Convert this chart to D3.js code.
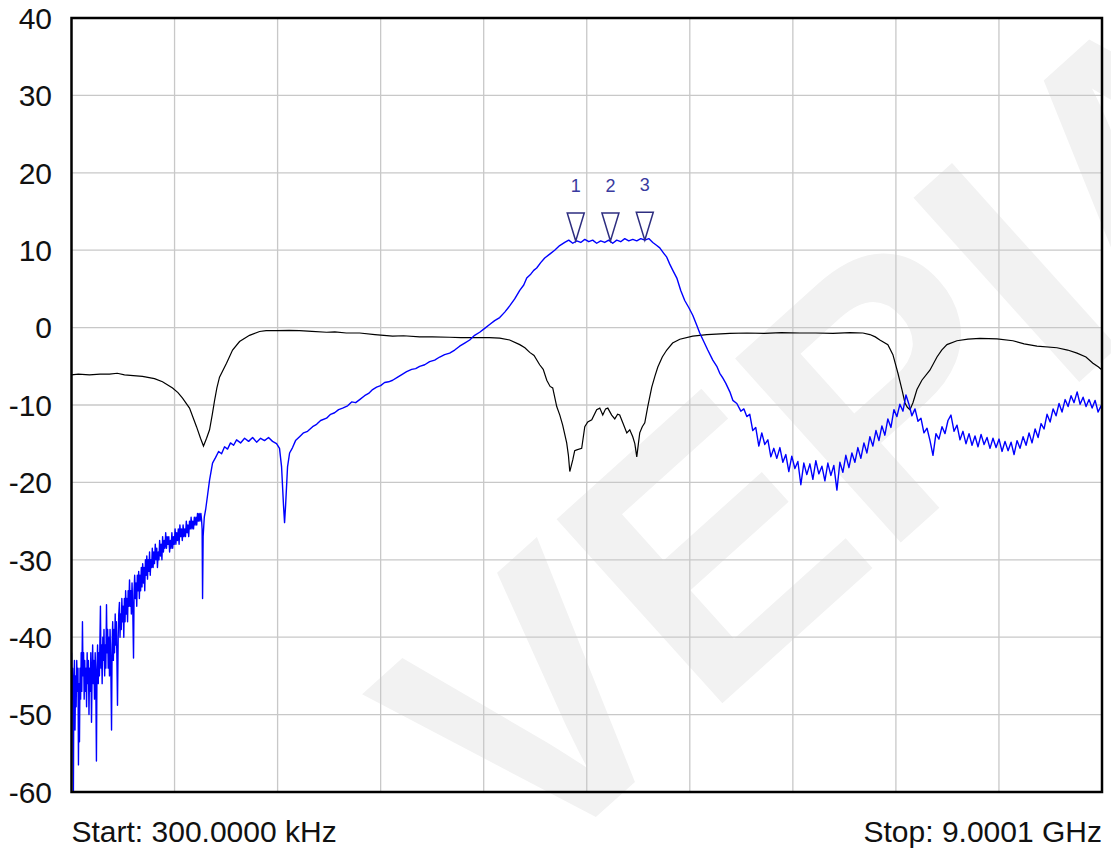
<!DOCTYPE html>
<html>
<head>
<meta charset="utf-8">
<script src="https://cdn.jsdelivr.net/npm/d3@7"></script>
<style>
  body { margin: 0; background: #fff; }
  text { font-family: "Liberation Sans", Arial, sans-serif; }
</style>
</head>
<body>
<script>
//#### DATA ####
// sweep limits (MHz)
var startMHz = 0.3;
var stopMHz = 9000.1;
var startLabel = "Start: 300.0000 kHz";
var stopLabel = "Stop: 9.0001 GHz";
var yTicks = [40, 30, 20, 10, 0, -10, -20, -30, -40, -50, -60];

// black trace (reflection), [MHz, dB]
var traceBlack = [
  [0.3,-6.1],[60,-6.0],[157,-6.1],[250,-6.0],[332,-6.0],[400,-5.9],[463,-6.1],[540,-6.2],[620,-6.3],
  [725,-6.6],[795,-7.0],[883,-7.8],[930,-8.4],[970,-9.1],[1031,-10.4],[1092,-12.8],[1127,-14.3],
  [1153,-15.3],[1180,-14.3],[1206,-13.2],[1230,-11.2],[1250,-9.4],[1270,-7.8],[1293,-6.4],[1354,-4.6],
  [1407,-2.9],[1468,-1.8],[1555,-1.0],[1643,-0.5],[1700,-0.4],[1791,-0.4],[1900,-0.35],[1992,-0.4],
  [2100,-0.5],[2228,-0.6],[2300,-0.55],[2400,-0.7],[2517,-0.7],[2650,-0.9],[2805,-1.1],[2900,-1.05],
  [3041,-1.2],[3150,-1.2],[3303,-1.25],[3400,-1.3],[3565,-1.3],[3650,-1.3],[3740,-1.35],[3827,-1.6],
  [3915,-2.2],[3960,-2.6],[4002,-3.2],[4040,-3.6],[4089,-4.8],[4120,-5.4],[4151,-6.8],[4180,-7.6],
  [4203,-7.8],[4238,-10.2],[4265,-11.3],[4290,-12.6],[4325,-14.9],[4340,-16.5],[4352,-18.6],[4378,-17.1],
  [4395,-15.9],[4413,-15.8],[4456,-15.6],[4483,-12.8],[4509,-12.2],[4544,-11.9],[4587,-10.6],[4614,-10.4],
  [4640,-11.3],[4665,-10.5],[4684,-10.4],[4718,-11.3],[4745,-11.8],[4770,-11.2],[4788,-11.3],[4815,-12.3],
  [4850,-13.6],[4876,-13.2],[4902,-14.1],[4920,-15.0],[4937,-16.7],[4963,-13.6],[4985,-12.8],[5007,-12.3],
  [5033,-10.2],[5068,-7.7],[5095,-6.3],[5121,-5.1],[5160,-3.8],[5199,-2.9],[5250,-2.0],[5313,-1.5],
  [5426,-1.1],[5549,-0.9],[5750,-0.75],[5900,-0.7],[6050,-0.75],[6200,-0.65],[6361,-0.7],[6500,-0.7],
  [6650,-0.75],[6800,-0.65],[6912,-0.7],[6973,-0.9],[7020,-1.2],[7060,-1.6],[7130,-2.2],[7174,-3.5],
  [7218,-5.9],[7253,-8.0],[7279,-9.7],[7300,-10.3],[7323,-10.6],[7349,-9.7],[7384,-8.0],[7427,-6.8],
  [7497,-5.5],[7559,-3.8],[7600,-2.9],[7646,-2.2],[7733,-1.7],[7830,-1.5],[7934,-1.4],[8083,-1.45],
  [8222,-1.7],[8320,-2.1],[8432,-2.4],[8607,-2.6],[8700,-2.9],[8782,-3.3],[8860,-3.8],[8921,-4.6],
  [8970,-5.1],[9000.1,-5.5]
];

// blue trace (transmission), [MHz, dB]
var traceBlue = [
  [0.3,-42],[5,-48],[10,-44],[17,-60],[21,-46],[26,-43],[31,-52],[36,-45],[41,-49],[46,-43],[52,-47],
  [57,-44],[61,-56.5],[66,-46],[70,-53.5],[75,-44],[80,-48],[85,-42],[90,-47],[96,-38],[101,-45],
  [106,-42],[111,-48],[116,-43],[121,-47],[127,-44],[132,-49],[137,-42],[142,-46],[148,-43],[153,-50],
  [158,-44],[164,-47],[169,-42],[175,-51],[180,-45],[185,-41],[191,-46],[196,-43],[201,-48],[207,-42],
  [212,-45],[218,-56],[223,-44],[228,-41],[234,-46],[239,-42],[244,-45],[249,-40],[253,-36],[258,-44],
  [263,-41],[268,-46],[274,-40],[279,-43],[284,-39],[290,-45],[295,-41],[300,-44],[306,-35.8],[311,-42],
  [316,-39],[321,-44],[327,-40],[332,-45],[337,-39],[343,-43],[350,-52],[355,-41],[360,-38],[366,-43],
  [371,-39],[376,-42],[382,-37],[387,-41],[392,-38],[397,-43],[402,-48.8],[408,-40],[413,-37],[419,-35.5],
  [424,-40],[430,-37],[435,-39],[440,-35],[446,-38],[451,-36],[457,-40],[462,-35],[468,-38],[473,-34],
  [479,-37],[484,-35],[490,-38],[495,-34],[501,-36],[507,-32.6],[512,-36],[518,-34],[523,-37],[529,-33],
  [535,-36],[542,-42.7],[547,-34],[552,-32],[558,-35],[564,-33],[570,-36],[575,-32],[581,-34],[587,-31.5],
  [593,-35],[598,-32],[604,-34],[610,-31],[616,-33.5],[622,-30.5],[628,-33],[634,-31],[640,-34],[646,-30],
  [652,-32],[658,-29.5],[664,-32.5],[670,-30],[676,-31.5],[682,-29],[688,-32],[694,-30],[700,-31],
  [706,-28.5],[713,-31],[719,-29],[725,-30.5],[732,-28],[738,-30],[745,-28.5],[751,-31],[758,-29],
  [764,-30],[770,-27.5],[777,-29.5],[783,-28],[790,-30],[796,-27],[803,-29],[810,-27.5],[816,-28.5],
  [823,-26.5],[830,-28.5],[836,-27],[843,-28],[850,-27],[857,-29],[864,-27.5],[870,-28.5],[877,-26.5],
  [884,-28.5],[891,-27],[898,-28],[905,-26],[912,-28],[919,-26.5],[926,-27.5],[933,-26],[940,-28],
  [947,-25.5],[954,-27],[961,-26],[968,-27.5],[975,-25.5],[982,-27],[989,-26],[996,-27],[1003,-25],
  [1010,-26.5],[1017,-25.5],[1024,-27],[1031,-25],[1038,-26],[1045,-24.5],[1052,-26],[1059,-25],
  [1066,-26],[1073,-24.5],[1080,-25.5],[1087,-24.5],[1094,-25.5],[1101,-24],[1108,-25],[1115,-24],
  [1122,-25],[1130,-24],[1136,-24.8],[1141,-26],[1145,-35],[1150,-27],[1160,-24.5],[1172,-23.5],
  [1190,-21.5],[1206,-19.7],[1232,-17.5],[1258,-16.8],[1285,-16.0],[1311,-16.3],[1337,-15.4],[1363,-15.7],
  [1389,-14.9],[1416,-15.2],[1442,-14.5],[1477,-14.9],[1512,-14.3],[1547,-14.7],[1582,-14.2],[1617,-14.8],
  [1652,-14.3],[1686,-14.6],[1721,-14.2],[1756,-14.7],[1791,-15.0],[1817,-15.6],[1835,-18],[1852,-23],
  [1861,-25.2],[1870,-23],[1887,-18],[1905,-16.2],[1931,-15.5],[1957,-14.6],[1992,-14.1],[2027,-13.6],
  [2062,-13.4],[2106,-12.8],[2141,-12.5],[2176,-12.0],[2228,-11.7],[2263,-11.2],[2298,-11.0],[2333,-10.6],
  [2368,-10.4],[2412,-10.1],[2447,-9.6],[2482,-9.7],[2517,-9.3],[2560,-8.8],[2595,-8.5],[2630,-8.0],
  [2665,-7.7],[2700,-7.5],[2735,-7.1],[2770,-7.0],[2805,-6.8],[2849,-6.4],[2892,-6.0],[2927,-5.7],
  [2971,-5.4],[3006,-5.3],[3041,-5.0],[3085,-4.8],[3128,-4.4],[3172,-4.2],[3216,-3.8],[3259,-3.5],
  [3303,-3.3],[3347,-2.9],[3390,-2.4],[3434,-2.0],[3478,-1.6],[3521,-1.0],[3565,-0.6],[3609,-0.1],
  [3652,0.4],[3696,0.9],[3740,1.3],[3784,2.0],[3827,2.8],[3871,3.7],[3915,4.8],[3950,5.5],[3976,6.4],
  [4011,6.9],[4037,7.4],[4063,7.7],[4098,8.4],[4133,9.0],[4177,9.5],[4220,10.0],[4264,10.6],[4308,11.0],
  [4343,11.3],[4378,10.9],[4413,11.2],[4448,11.0],[4483,11.4],[4518,11.1],[4552,11.3],[4587,10.9],
  [4622,11.2],[4657,11.0],[4692,11.3],[4727,10.9],[4762,11.3],[4797,11.1],[4832,11.5],[4867,11.2],
  [4902,11.4],[4937,11.2],[4972,11.5],[5007,11.3],[5042,11.5],[5077,11.0],[5112,10.6],[5138,10.3],
  [5173,9.6],[5199,9.1],[5225,8.2],[5252,7.4],[5287,6.4],[5321,4.8],[5356,3.5],[5391,2.6],[5426,1.6],
  [5461,0.3],[5487,-0.7],[5522,-1.8],[5557,-2.9],[5601,-4.2],[5636,-5.0],[5662,-5.9],[5688,-6.5],
  [5715,-7.2],[5750,-8.3],[5776,-9.4],[5811,-9.8],[5846,-10.8],[5872,-10.5],[5898,-11.5],
  [5924,-11.2],[5950,-13.3],[5976,-12.9],[6003,-15.3],[6029,-13.6],[6055,-15.1],[6082,-14.5],[6108,-16.7],
  [6134,-15.6],[6160,-16.9],[6187,-15.5],[6213,-17.4],[6239,-16.4],[6265,-18.6],[6291,-16.6],[6318,-18.2],
  [6344,-17.3],[6370,-20.3],[6396,-17.5],[6422,-19.0],[6449,-17.6],[6475,-19.6],[6501,-17.2],[6527,-18.9],
  [6554,-17.9],[6580,-19.8],[6606,-17.5],[6632,-19.1],[6658,-17.8],[6685,-21.0],[6711,-17.4],[6737,-18.7],
  [6763,-16.5],[6790,-18.1],[6816,-16.2],[6842,-17.4],[6868,-15.5],[6894,-16.9],[6921,-14.9],[6947,-16.2],
  [6973,-14.1],[6999,-15.3],[7026,-13.3],[7052,-14.6],[7078,-12.7],[7104,-13.9],[7130,-11.8],[7157,-12.9],
  [7183,-10.6],[7209,-11.5],[7235,-9.9],[7262,-10.8],[7288,-8.7],[7314,-9.9],[7340,-11.4],[7367,-10.5],
  [7393,-12.1],[7419,-11.7],[7445,-13.6],[7472,-13.0],[7498,-14.6],[7524,-16.5],[7550,-13.7],[7576,-14.4],
  [7603,-12.8],[7629,-13.7],[7655,-12.0],[7681,-11.3],[7708,-13.4],[7734,-12.6],[7760,-14.5],[7786,-13.4],
  [7812,-15.0],[7839,-13.7],[7865,-15.2],[7891,-14.0],[7917,-15.4],[7944,-13.8],[7970,-15.1],[7996,-14.2],
  [8022,-15.6],[8048,-14.3],[8075,-15.5],[8101,-14.4],[8127,-16.0],[8153,-14.7],[8180,-15.9],[8206,-14.8],
  [8232,-16.4],[8258,-14.6],[8284,-15.6],[8311,-14.1],[8337,-15.2],[8363,-13.6],[8389,-14.9],[8416,-13.1],
  [8442,-14.2],[8468,-12.4],[8494,-13.1],[8520,-11.2],[8547,-12.2],[8573,-10.5],[8599,-11.4],[8625,-9.8],
  [8651,-10.9],[8678,-9.3],[8704,-10.2],[8730,-8.8],[8756,-9.7],[8783,-8.3],[8809,-9.9],[8835,-9.0],
  [8861,-10.2],[8887,-9.3],[8914,-10.4],[8940,-9.4],[8966,-10.9],[8992,-10.1],[9000.1,-10.8]
];

// markers on the blue trace
var markerNames = ["1", "2", "3"];
var markerMHz = [4404, 4707, 5007];
var markerDb = [11.2, 11.2, 11.3];

var watermark = "VEPIA";
//##############

var width_outer = 1111;
var height_outer = 850;
var plot = {left: 71.5, right: 1102, top: 18, bottom: 792};

var svg = d3.select("body").append("svg")
  .attr("width", width_outer)
  .attr("height", height_outer);

svg.append("rect")
  .attr("width", width_outer)
  .attr("height", height_outer)
  .attr("fill", "#fff");

// watermark behind everything
svg.append("text")
  .attr("transform", "translate(526,880) rotate(-42)")
  .attr("font-size", 360)
  .attr("font-weight", "bold")
  .attr("fill", "#f2f2f2")
  .text(watermark);

var x = d3.scaleLinear()
  .domain([startMHz, stopMHz])
  .range([plot.left, plot.right]);

var y = d3.scaleLinear()
  .domain([-60, 40])
  .range([plot.bottom, plot.top]);

// grid
var gridX = d3.range(1, 10).map(function(i) { return startMHz + i * (stopMHz - startMHz) / 10; });

svg.append("g")
  .selectAll("line")
  .data(gridX)
  .enter().append("line")
  .attr("x1", function(d) { return x(d); })
  .attr("x2", function(d) { return x(d); })
  .attr("y1", plot.top)
  .attr("y2", plot.bottom)
  .attr("stroke", "#c8c8c8")
  .attr("stroke-width", 1.3);

svg.append("g")
  .selectAll("line")
  .data(yTicks.slice(1, -1))
  .enter().append("line")
  .attr("x1", plot.left)
  .attr("x2", plot.right)
  .attr("y1", function(d) { return y(d); })
  .attr("y2", function(d) { return y(d); })
  .attr("stroke", "#c8c8c8")
  .attr("stroke-width", 1.3);

// y labels
svg.append("g")
  .selectAll("text")
  .data(yTicks)
  .enter().append("text")
  .attr("x", 52)
  .attr("y", function(d) { return y(d); })
  .attr("dy", "0.36em")
  .attr("text-anchor", "end")
  .attr("font-size", 30)
  .attr("fill", "#111")
  .text(function(d) { return d; });

svg.append("text")
  .attr("x", plot.left)
  .attr("y", 842)
  .attr("font-size", 30)
  .attr("fill", "#111")
  .text(startLabel);

svg.append("text")
  .attr("x", plot.right)
  .attr("y", 842)
  .attr("text-anchor", "end")
  .attr("font-size", 30)
  .attr("fill", "#111")
  .text(stopLabel);

// traces
svg.append("clipPath").attr("id", "clip")
  .append("rect")
  .attr("x", plot.left).attr("y", plot.top)
  .attr("width", plot.right - plot.left)
  .attr("height", plot.bottom - plot.top);

var line = d3.line()
  .x(function(d) { return x(d[0]); })
  .y(function(d) { return y(d[1]); });

var traces = svg.append("g").attr("clip-path", "url(#clip)");

traces.append("path")
  .datum(traceBlack)
  .attr("d", line)
  .attr("fill", "none")
  .attr("stroke", "#000")
  .attr("stroke-width", 1.2);

traces.append("path")
  .datum(traceBlue)
  .attr("d", line)
  .attr("fill", "none")
  .attr("stroke", "#0000ff")
  .attr("stroke-width", 1.4)
  .attr("stroke-linejoin", "round");

// markers
var markers = markerNames.map(function(n, i) { return {name: n, f: markerMHz[i], v: markerDb[i]}; });

var mk = svg.append("g")
  .selectAll("g")
  .data(markers)
  .enter().append("g")
  .attr("transform", function(d) { return "translate(" + x(d.f) + "," + y(d.v) + ")"; });

mk.append("path")
  .attr("d", "M0,0L-8.5,-28L8.5,-28Z")
  .attr("fill", "#fff")
  .attr("stroke", "#2e2e80")
  .attr("stroke-width", 1.5);

mk.append("text")
  .attr("y", -49)
  .attr("text-anchor", "middle")
  .attr("font-size", 18)
  .attr("fill", "#3a3aa0")
  .text(function(d) { return d.name; });

// frame
svg.append("rect")
  .attr("x", plot.left)
  .attr("y", plot.top)
  .attr("width", plot.right - plot.left)
  .attr("height", plot.bottom - plot.top)
  .attr("fill", "none")
  .attr("stroke", "#000")
  .attr("stroke-width", 2.5);
</script>
</body>
</html>
